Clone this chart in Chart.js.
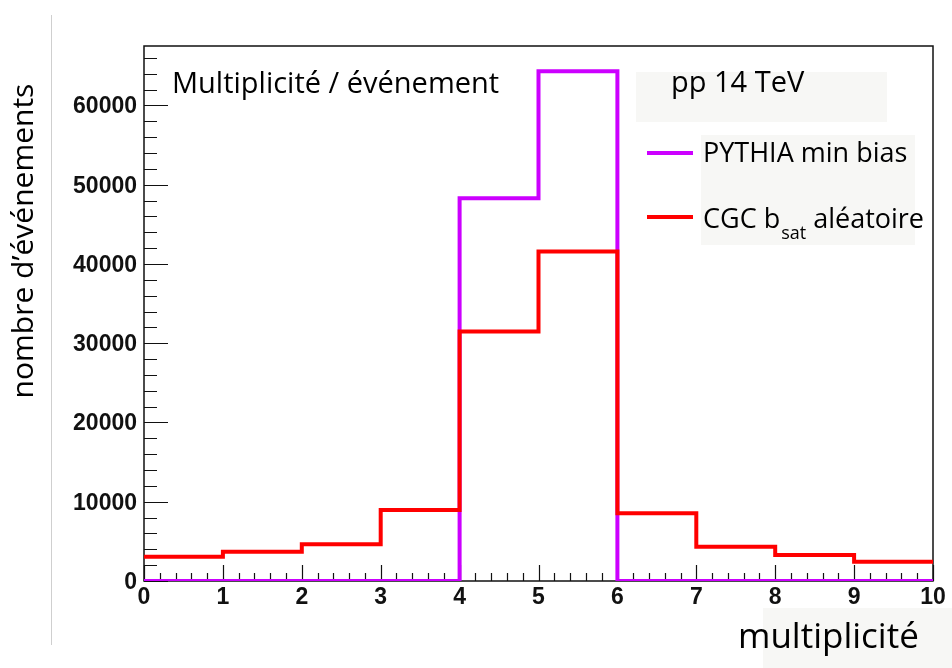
<!DOCTYPE html>
<html>
<head>
<meta charset="utf-8">
<script src="https://cdn.jsdelivr.net/npm/chart.js@4"></script>
<style>
  html, body { margin: 0; padding: 0; background: #fff; }
  #wrap { width: 952px; height: 668px; position: relative; }
</style>
</head>
<body>
<div id="wrap"><canvas id="chartCanvas" width="952" height="668"></canvas></div>
<script>
// histogram bins (lower edges), multiplicity 0..9, width 1
const binEdges = [0, 1, 2, 3, 4, 5, 6, 7, 8, 9];
const pythiaCounts = [0, 0, 0, 0, 48300, 64300, 0, 0, 0, 0];
const cgcCounts = [3070, 3700, 4630, 8960, 31480, 41580, 8550, 4330, 3280, 2440];
const xTickLabels = ["0", "1", "2", "3", "4", "5", "6", "7", "8", "9", "10"];
const yTickLabels = ["0", "10000", "20000", "30000", "40000", "50000", "60000"];

const seriesNames = ["PYTHIA min bias", "CGC b", "sat", "aléatoire"];

// step points: each bin value starts at its edge, last bin closed at 10
function toSteps(counts) {
    const pts = binEdges.map((x, i) => ({ x: x, y: counts[i] }));
    pts.push({ x: binEdges[binEdges.length - 1] + 1, y: counts[counts.length - 1] });
    return pts;
}

const textFont = '"Open Sans", "Noto Sans", sans-serif';
const tickFont = 'bold 23px "Liberation Sans", Arial, sans-serif';

// ROOT-like frame: inside ticks, labels, texts
const rootStyle = {
    id: 'rootStyle',
    beforeDatasetsDraw(chart) {
        const ctx = chart.ctx;
        const a = chart.chartArea;
        const xs = chart.scales.x, ys = chart.scales.y;
        ctx.save();
        // grey line at far left
        ctx.strokeStyle = '#cfcfcf';
        ctx.lineWidth = 1;
        ctx.beginPath();
        ctx.moveTo(51.5, 15);
        ctx.lineTo(51.5, 645);
        ctx.stroke();

        // background boxes
        ctx.fillStyle = '#f7f7f5';
        ctx.fillRect(636, 72, 251, 50);
        ctx.fillRect(701, 135, 214, 110);
        ctx.fillRect(763, 608, 189, 60);

        // frame
        ctx.strokeStyle = '#111';
        ctx.lineWidth = 1.5;
        ctx.strokeRect(a.left, a.top, a.right - a.left, a.bottom - a.top);

        // x ticks (inside)
        ctx.lineWidth = 1.2;
        ctx.beginPath();
        for (let i = 0; i <= 50; i++) {
            const v = i / 5;
            const px = Math.round(xs.getPixelForValue(v)) + 0.5;
            const len = (i % 5 === 0) ? 16 : 8;
            ctx.moveTo(px, a.bottom);
            ctx.lineTo(px, a.bottom - len);
        }
        // y ticks (inside)
        for (let v = 0; v <= ys.max; v += 2000) {
            const py = Math.round(ys.getPixelForValue(v)) + 0.5;
            const len = (v % 10000 === 0) ? 24 : 13;
            ctx.moveTo(a.left, py);
            ctx.lineTo(a.left + len, py);
        }
        ctx.stroke();
        ctx.restore();
    },
    afterDatasetsDraw(chart) {
        const ctx = chart.ctx;
        const a = chart.chartArea;
        const xs = chart.scales.x, ys = chart.scales.y;
        ctx.save();
        ctx.fillStyle = '#111';
        ctx.font = tickFont;
        ctx.textAlign = 'center';
        ctx.textBaseline = 'alphabetic';
        xTickLabels.forEach((t, i) => {
            ctx.fillText(t, xs.getPixelForValue(i), a.bottom + 23);
        });
        ctx.textAlign = 'right';
        yTickLabels.forEach((t, i) => {
            ctx.fillText(t, a.left - 7, ys.getPixelForValue(i * 10000) + 8);
        });

        // texts
        ctx.fillStyle = '#000';
        ctx.textAlign = 'left';
        ctx.font = '29px ' + textFont;
        ctx.fillText('Multiplicité / événement', 172, 93);
        ctx.fillText('pp 14 TeV', 671, 92);
        ctx.font = '27px ' + textFont;
        ctx.fillText(seriesNames[0], 703, 162);
        ctx.fillText(seriesNames[1], 703, 228);
        let w = ctx.measureText(seriesNames[1]).width;
        ctx.font = '18px ' + textFont;
        ctx.fillText(seriesNames[2], 703 + w + 1, 239);
        const w2 = ctx.measureText(seriesNames[2]).width;
        ctx.font = '27px ' + textFont;
        ctx.fillText(seriesNames[3], 703 + w + w2 + 8, 228);

        // legend lines
        ctx.lineWidth = 4;
        ctx.strokeStyle = '#cc00ff';
        ctx.beginPath(); ctx.moveTo(647, 153); ctx.lineTo(693, 153); ctx.stroke();
        ctx.strokeStyle = '#ff0000';
        ctx.beginPath(); ctx.moveTo(647, 217); ctx.lineTo(693, 217); ctx.stroke();

        // axis titles
        ctx.font = '35px ' + textFont;
        ctx.fillText('multiplicité', 738, 648);
        ctx.save();
        ctx.translate(33, 241);
        ctx.rotate(-Math.PI / 2);
        ctx.textAlign = 'center';
        ctx.font = '30px ' + textFont;
        ctx.fillText('nombre d\u2019événements', 0, 0);
        ctx.restore();
        ctx.restore();
    }
};

const ctx = document.getElementById("chartCanvas").getContext("2d");
const chart = new Chart(ctx, {
    type: 'line',
    data: {
        datasets: [
            {
                label: 'CGC b_sat aléatoire',
                data: toSteps(cgcCounts),
                borderColor: '#ff0000',
                borderWidth: 4,
                stepped: 'before',
                pointRadius: 0,
                fill: false,
                order: 0
            },
            {
                label: 'PYTHIA min bias',
                data: toSteps(pythiaCounts),
                borderColor: '#cc00ff',
                borderWidth: 4,
                stepped: 'before',
                pointRadius: 0,
                fill: false,
                order: 1
            }
        ]
    },
    options: {
        responsive: false,
        animation: false,
        layout: { padding: { left: 0, right: 19, top: 46, bottom: 0 } },
        plugins: { legend: { display: false }, tooltip: { enabled: false } },
        scales: {
            x: {
                type: 'linear', min: 0, max: 10,
                grid: { display: false }, border: { display: false },
                ticks: { display: false },
                afterFit: s => { s.height = 87; }
            },
            y: {
                min: 0, max: 67500,
                grid: { display: false }, border: { display: false },
                ticks: { display: false },
                afterFit: s => { s.width = 144; }
            }
        }
    },
    plugins: [rootStyle]
});
</script>
</body>
</html>
